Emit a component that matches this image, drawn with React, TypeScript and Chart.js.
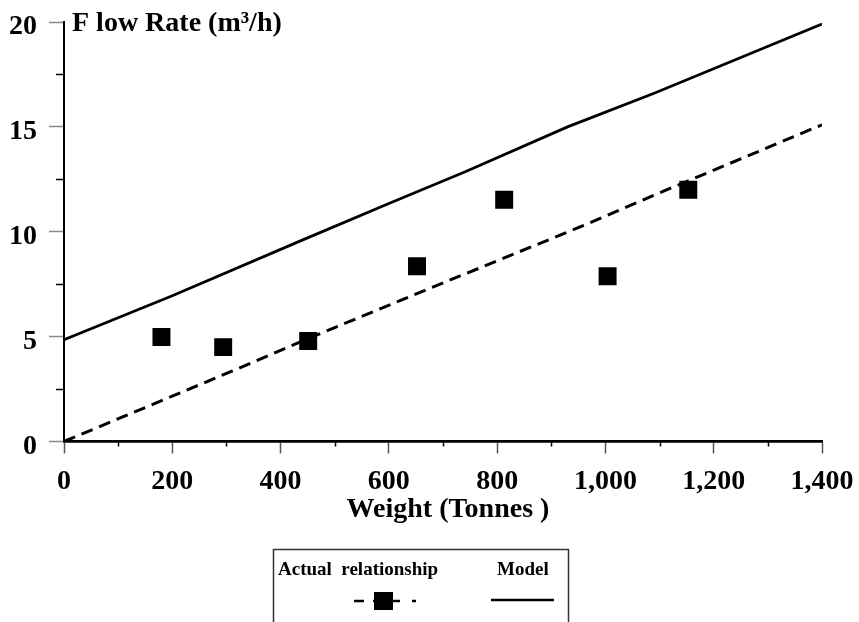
import React, { useEffect, useRef } from "react";
import { Chart, registerables } from "chart.js";

Chart.register(...registerables);

// ---- data ----
const modelWeights = [0, 200, 440, 600, 740, 930, 1090, 1400];
const modelFlow = [4.85, 6.95, 9.6, 11.35, 12.85, 15.0, 16.6, 19.9];

const actualLineWeights = [0, 310, 450, 680, 960, 1095, 1400];
const actualLineFlow = [0, 3.35, 4.9, 7.35, 10.3, 11.8, 15.1];

const actualWeights = [180, 294, 451, 652, 813, 1004, 1153];
const actualFlow = [4.98, 4.5, 4.79, 8.36, 11.53, 7.88, 12.0];

const xMinorTicks = [100, 300, 500, 700, 900, 1100, 1300];
const yMinorTicks = [2.5, 7.5, 12.5, 17.5];

const yTitle = "F low Rate (m³/h)";
const xTitle = "Weight (Tonnes )";
const legendActual = "Actual  relationship";
const legendModel = "Model";

const FONT = "'Liberation Serif', 'Times New Roman', serif";

const extrasPlugin = {
  id: "extras",
  afterDraw(chart: any) {
    const ctx = chart.ctx;
    const xs = chart.scales.x;
    const ys = chart.scales.y;
    const area = chart.chartArea;
    ctx.save();
    // minor ticks
    ctx.strokeStyle = "#000";
    ctx.lineWidth = 1.5;
    xMinorTicks.forEach((v) => {
      const px = Math.round(xs.getPixelForValue(v)) + 0.5;
      ctx.beginPath();
      ctx.moveTo(px, area.bottom);
      ctx.lineTo(px, area.bottom + 5);
      ctx.stroke();
    });
    yMinorTicks.forEach((v) => {
      const py = Math.round(ys.getPixelForValue(v)) + 0.5;
      ctx.beginPath();
      ctx.moveTo(area.left - 8, py);
      ctx.lineTo(area.left, py);
      ctx.stroke();
    });
    // titles
    ctx.fillStyle = "#000";
    ctx.font = `bold 28px ${FONT}`;
    ctx.textBaseline = "alphabetic";
    ctx.textAlign = "left";
    ctx.fillText(yTitle, 72, 31);
    ctx.textAlign = "center";
    ctx.fillText(xTitle, 448, 517);

    // legend box
    ctx.strokeStyle = "#333";
    ctx.lineWidth = 1.5;
    ctx.strokeRect(273.5, 549.5, 295, 100);
    ctx.font = `bold 19px ${FONT}`;
    ctx.textAlign = "left";
    ctx.fillText(legendActual, 278, 575);
    ctx.fillText(legendModel, 497, 575);
    // actual symbol
    ctx.strokeStyle = "#000";
    ctx.lineWidth = 2.5;
    ctx.beginPath();
    ctx.moveTo(354, 601);
    ctx.lineTo(364, 601);
    ctx.moveTo(373, 601);
    ctx.lineTo(400, 601);
    ctx.moveTo(412, 601);
    ctx.lineTo(416, 601);
    ctx.stroke();
    ctx.fillStyle = "#000";
    ctx.fillRect(374, 592, 19, 18);
    // model symbol
    ctx.lineWidth = 2.5;
    ctx.beginPath();
    ctx.moveTo(491, 600);
    ctx.lineTo(554, 600);
    ctx.stroke();
    ctx.restore();
  },
};

export default function App() {
  const canvasRef = useRef<HTMLCanvasElement | null>(null);

  useEffect(() => {
    const canvas = canvasRef.current;
    if (!canvas) return;
    const chart = new Chart(canvas, {
      type: "scatter",
      data: {
        datasets: [
          {
            label: "Actual relationship",
            data: actualWeights.map((x, i) => ({ x, y: actualFlow[i] })),
            showLine: false,
            pointStyle: "rect",
            pointRadius: 12.7,
            pointBackgroundColor: "#000",
            pointBorderColor: "#000",
            pointBorderWidth: 0,
            order: 0,
          },
          {
            label: "Actual line",
            data: actualLineWeights.map((x, i) => ({ x, y: actualLineFlow[i] })),
            showLine: true,
            borderColor: "#000",
            borderWidth: 3,
            borderDash: [12, 7],
            pointRadius: 0,
            order: 1,
          },
          {
            label: "Model",
            data: modelWeights.map((x, i) => ({ x, y: modelFlow[i] })),
            showLine: true,
            borderColor: "#000",
            borderWidth: 2.8,
            pointRadius: 0,
            order: 2,
          },
        ],
      },
      options: {
        animation: false,
        responsive: false,
        devicePixelRatio: 1,
        layout: { padding: { left: 0, right: 37, top: 22, bottom: 0 } },
        plugins: {
          legend: { display: false },
          tooltip: { enabled: false },
        },
        scales: {
          x: {
            type: "linear",
            position: "bottom",
            min: 0,
            max: 1400,
            ticks: {
              stepSize: 200,
              autoSkip: false,
              maxRotation: 0,
              padding: 11,
              color: "#000",
              font: { family: FONT, size: 28, weight: "bold" },
              callback: (v: any) => Number(v).toLocaleString("en-US"),
            },
            grid: {
              drawOnChartArea: false,
              drawTicks: true,
              tickLength: 12,
              tickColor: "#555",
              tickWidth: 1.5,
            },
            border: { display: true, color: "#000", width: 2.7 },
            afterFit: (s: any) => {
              s.height = 180.5;
              s.paddingLeft = 0;
              s.paddingRight = 0;
            },
          },
          y: {
            type: "linear",
            min: 0,
            max: 20,
            ticks: {
              stepSize: 5,
              padding: 12,
              labelOffset: 5,
              color: "#000",
              font: { family: FONT, size: 28, weight: "bold" },
            },
            grid: {
              drawOnChartArea: false,
              drawTicks: true,
              tickLength: 15,
              tickColor: "#888",
              tickWidth: 1.5,
            },
            border: { display: true, color: "#000", width: 2 },
            afterFit: (s: any) => {
              s.width = 64;
              s.paddingTop = 0;
              s.paddingBottom = 0;
            },
          },
        },
      },
      plugins: [extrasPlugin],
    } as any);
    return () => chart.destroy();
  }, []);

  return (
    <div style={{ position: "fixed", left: 0, top: 0, width: 859, height: 622, background: "#fff" }}>
      <canvas ref={canvasRef} width={859} height={622} style={{ display: "block" }} />
    </div>
  );
}
